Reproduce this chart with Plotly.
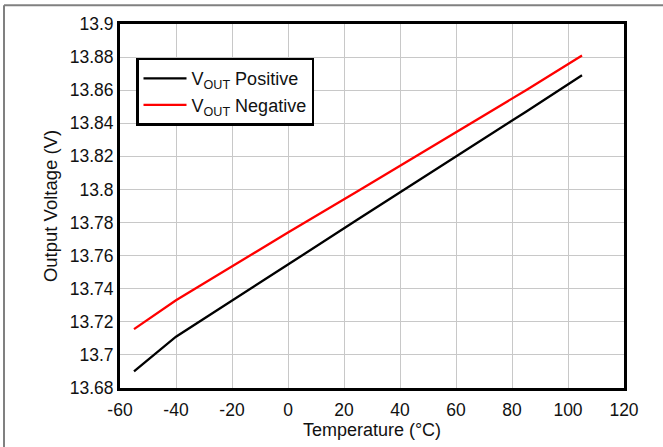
import plotly.graph_objects as go

# Output voltage vs temperature
temp_pos = [-55, -40, 0, 25, 85, 105]
vout_pos = [13.690, 13.711, 13.7546, 13.782, 13.847, 13.869]

temp_neg = [-55, -40, 0, 25, 85, 105]
vout_neg = [13.7156, 13.733, 13.774, 13.799, 13.860, 13.881]

series_names = ["V<sub>OUT</sub> Positive", "V<sub>OUT</sub> Negative"]
series_colors = ["#000000", "#ff0000"]

x_ticks = [-60, -40, -20, 0, 20, 40, 60, 80, 100, 120]
x_ticktext = ["-60", "-40", "-20", "0", "20", "40", "60", "80", "100", "120"]
y_ticks = [13.68, 13.70, 13.72, 13.74, 13.76, 13.78, 13.80, 13.82, 13.84, 13.86, 13.88, 13.90]
y_ticktext = ["13.68", "13.7", "13.72", "13.74", "13.76", "13.78", "13.8",
              "13.82", "13.84", "13.86", "13.88", "13.9"]

FONT = "Liberation Sans, Arial, sans-serif"
TXT = "#111111"

fig = go.Figure()
fig.add_trace(go.Scatter(x=temp_pos, y=vout_pos, mode="lines", name=series_names[0],
                         line=dict(color=series_colors[0], width=2.3)))
fig.add_trace(go.Scatter(x=temp_neg, y=vout_neg, mode="lines", name=series_names[1],
                         line=dict(color=series_colors[1], width=2.3)))

ml, mr, mt, mb = 120, 39, 24, 56
W, H = 663, 447
pw, ph = W - ml - mr, H - mt - mb

axis_common = dict(
    showgrid=True, gridcolor="#c8c8c8", gridwidth=1,
    showline=True, linecolor="#000000", linewidth=3, mirror=True,
    zeroline=False,
    tickfont=dict(family=FONT, size=17.5, color=TXT),
)

fig.update_xaxes(range=[-60, 120], tickvals=x_ticks, ticktext=x_ticktext,
                 ticks="outside", ticklen=4, tickcolor="rgba(0,0,0,0)",
                 title=dict(text="Temperature (°C)", standoff=2,
                            font=dict(family=FONT, size=18, color=TXT)),
                 **axis_common)
fig.update_yaxes(range=[13.68, 13.9], tickvals=y_ticks, ticktext=y_ticktext,
                 ticks="",
                 title=dict(text="Output Voltage (V)", standoff=8,
                            font=dict(family=FONT, size=18.5, color=TXT)),
                 **axis_common)

# outer frame lines along top and left edges
fig.add_shape(type="line", xref="paper", yref="paper",
              x0=(4 - ml) / pw, x1=(W - ml) / pw + 0.1,
              y0=1 + (mt - 5) / ph, y1=1 + (mt - 5) / ph,
              line=dict(color="#808080", width=2))
fig.add_shape(type="line", xref="paper", yref="paper",
              x0=(4 - ml) / pw, x1=(4 - ml) / pw,
              y0=1 + (mt - 5) / ph, y1=-mb / ph - 0.1,
              line=dict(color="#808080", width=2))

fig.update_layout(
    width=W, height=H,
    margin=dict(l=ml, r=mr, t=mt, b=mb),
    paper_bgcolor="white", plot_bgcolor="white",
    font=dict(family=FONT, color=TXT),
    legend=dict(x=(136 - ml) / pw, y=1 - (58 - mt) / ph, xanchor="left", yanchor="top",
                bgcolor="white", bordercolor="#000000", borderwidth=2.5,
                font=dict(family=FONT, size=18, color=TXT),
                tracegroupgap=0, itemwidth=43),
    showlegend=True,
)

fig.write_html("out.html")
